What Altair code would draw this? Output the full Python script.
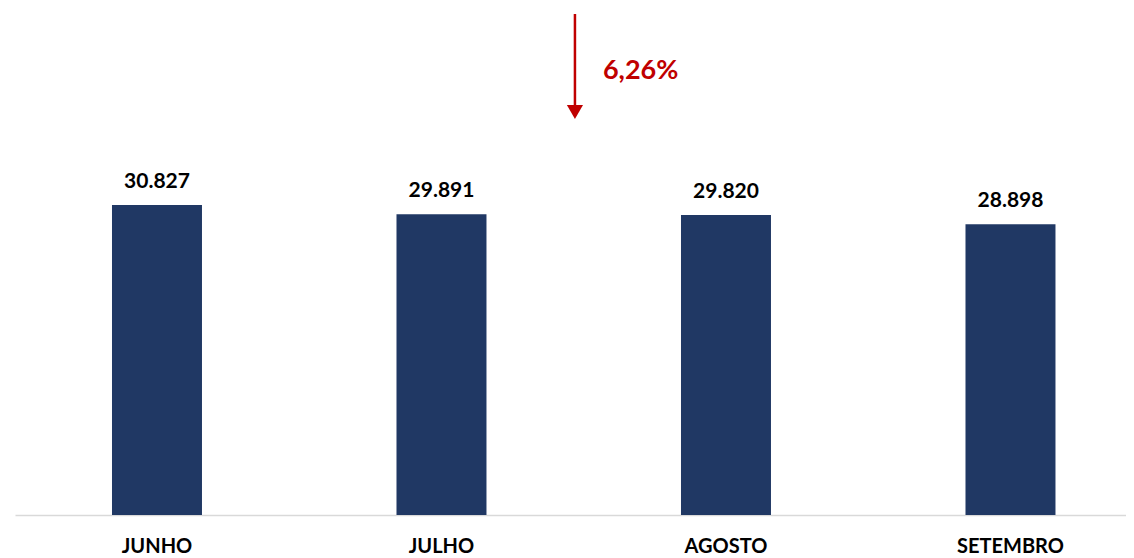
import altair as alt
import pandas as pd

months = ["JUNHO", "JULHO", "AGOSTO", "SETEMBRO"]
values = [30827, 29891, 29820, 28898]
labels = [f"{v:,}".replace(",", ".") for v in values]

change_label = ["6,26%"]
arrow_top = [49800]
arrow_bottom = [40750]
arrow_head = [40050]

NAVY = "#203864"
RED = "#C00000"
FONT = "Lato"

df = pd.DataFrame({"mes": months, "valor": values, "rotulo": labels})

yscale = alt.Scale(domain=[0, 50000], nice=False, zero=True)
xscale = alt.Scale(paddingInner=0.6837, paddingOuter=0.2944, align=0.579, round=False)

x_enc = alt.X(
    "mes:N",
    sort=months,
    scale=xscale,
    title=None,
    axis=alt.Axis(
        labelAngle=0,
        labelFont=FONT,
        labelFontSize=20,
        labelFontWeight="bold",
        labelColor="#000000",
        labelPadding=21,
        ticks=False,
        domainColor="#D9D9D9",
        domainWidth=1.5,
        grid=False,
    ),
)

bars = alt.Chart(df).mark_bar(color=NAVY).encode(
    x=x_enc,
    y=alt.Y("valor:Q", scale=yscale, axis=None),
)

texts = alt.Chart(df).mark_text(
    font=FONT, fontSize=21, fontWeight="bold", color="#000000", baseline="bottom", dy=-13
).encode(
    x=alt.X("mes:N", sort=months, scale=xscale),
    y=alt.Y("valor:Q", scale=yscale),
    text="rotulo:N",
)

ann = pd.DataFrame({
    "pos": [0.504],
    "top": arrow_top,
    "bottom": arrow_bottom,
    "head": arrow_head,
    "txt": change_label,
    "mid": [44100],
})
ax_scale = alt.Scale(domain=[0, 1], nice=False, zero=False)

arrow_line = alt.Chart(ann).mark_rule(color=RED, strokeWidth=2.5).encode(
    x=alt.X("pos:Q", scale=ax_scale, axis=None),
    y=alt.Y("top:Q", scale=yscale),
    y2="bottom:Q",
)
arrow_tip = alt.Chart(ann).mark_point(
    shape="triangle-down", filled=True, color=RED, size=260, opacity=1
).encode(
    x=alt.X("pos:Q", scale=ax_scale, axis=None),
    y=alt.Y("head:Q", scale=yscale),
)
arrow_text = alt.Chart(ann).mark_text(
    font=FONT, fontSize=27, fontWeight="bold", color=RED, align="left", dx=28
).encode(
    x=alt.X("pos:Q", scale=ax_scale, axis=None),
    y=alt.Y("mid:Q", scale=yscale),
    text="txt:N",
)

main = alt.layer(bars, texts)
annot = alt.layer(arrow_line, arrow_tip, arrow_text)

chart = alt.layer(main, annot).resolve_scale(x="independent").properties(
    width=1111,
    height=503,
    padding={"left": 7, "top": 4, "right": 0, "bottom": 43},
    autosize=alt.AutoSizeParams(type="none"),
    background="#FFFFFF",
).configure_view(stroke=None)

chart.save("out.html", embed_options={"renderer": "svg", "actions": False})
